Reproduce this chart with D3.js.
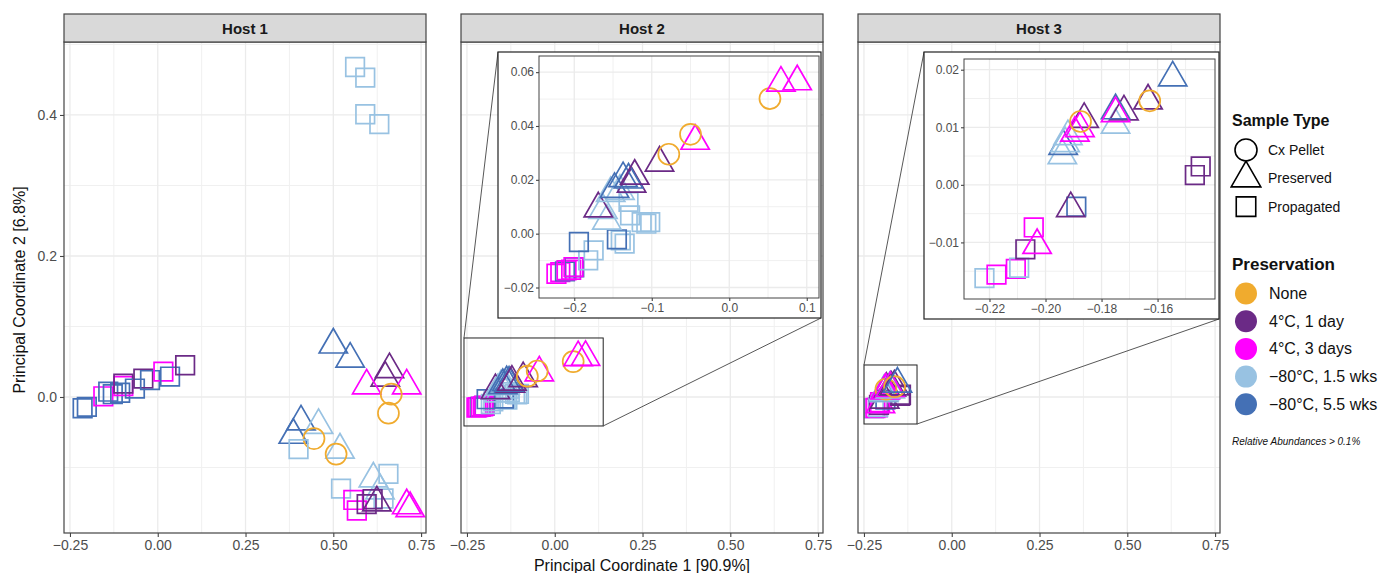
<!DOCTYPE html>
<html><head><meta charset="utf-8">
<script src="https://cdn.jsdelivr.net/npm/d3@7"></script>
<style>
body{margin:0;background:#fff;}
svg{font-family:"Liberation Sans",Arial,Helvetica,sans-serif;}
</style></head><body>
<svg id="c" width="1383" height="573"></svg>
<script>
// ---------------- DATA ----------------
const panels = ["Host 1", "Host 2", "Host 3"];
const sampleTypes = ["Cx Pellet", "Preserved", "Propagated"];
const preservations = ["None", "4°C, 1 day", "4°C, 3 days", "−80°C, 1.5 wks", "−80°C, 5.5 wks"];
const presColors = ["#F0AB2E", "#6B2A86", "#FF00FF", "#98C2E2", "#4470B5"];

// [PC1, PC2, sampleType index, preservation index]
const host1 = [
  [-0.214,-0.016,2,4],[-0.202,-0.014,2,4],[-0.155,0.001,2,2],[-0.141,0.0075,2,4],
  [-0.128,0.004,2,4],[-0.107,0.006,2,4],[-0.098,0.0156,2,2],[-0.098,0.019,2,1],
  [-0.065,0.012,2,4],[-0.041,0.026,2,1],[-0.022,0.024,2,4],[0.016,0.036,2,2],
  [0.035,0.029,2,4],[0.078,0.045,2,1],
  [0.562,0.468,2,3],[0.591,0.453,2,3],[0.591,0.401,2,3],[0.631,0.387,2,3],
  [0.500,0.074,1,4],[0.548,0.054,1,4],[0.660,0.039,1,1],[0.648,0.027,1,1],
  [0.595,0.016,1,2],[0.709,0.016,1,2],[0.665,0.004,0,0],[0.657,-0.023,0,0],
  [0.408,-0.035,1,4],[0.386,-0.054,1,4],[0.458,-0.040,1,3],[0.445,-0.059,0,0],
  [0.401,-0.074,2,3],[0.519,-0.075,1,3],[0.508,-0.081,0,0],
  [0.522,-0.130,2,3],[0.614,-0.116,1,3],[0.657,-0.109,2,3],[0.633,-0.133,1,3],
  [0.643,-0.144,2,3],[0.557,-0.146,2,2],[0.567,-0.161,2,2],[0.595,-0.152,2,1],
  [0.612,-0.145,2,1],[0.624,-0.150,1,1],[0.709,-0.154,1,2],[0.719,-0.158,1,2]
];
const host2 = [
  [-0.223,-0.0149,2,2],[-0.218,-0.0143,2,2],[-0.212,-0.0140,2,4],[-0.210,-0.0136,2,2],
  [-0.204,-0.0134,2,2],[-0.200,-0.0125,2,4],[-0.201,-0.0124,2,2],
  [-0.182,-0.0099,2,3],[-0.175,-0.0062,2,3],[-0.194,-0.0031,2,4],
  [-0.135,-0.0037,2,3],[-0.140,-0.0025,2,3],[-0.145,-0.0021,2,4],
  [-0.102,0.0043,2,3],[-0.107,0.0037,2,3],[-0.113,0.0043,2,3],[-0.128,0.0068,2,3],[-0.130,0.0118,2,3],
  [-0.158,0.0047,1,3],[-0.163,0.0087,1,3],[-0.169,0.0093,1,1],
  [-0.153,0.0150,1,3],[-0.141,0.0158,1,3],[-0.148,0.0165,1,4],
  [-0.126,0.0185,1,1],[-0.137,0.0205,1,4],[-0.130,0.0200,1,4],[-0.122,0.0214,1,1],
  [-0.090,0.0263,1,1],[-0.078,0.0295,0,0],[-0.044,0.0344,1,2],[-0.050,0.0369,0,0],
  [0.0525,0.0502,0,0],[0.0667,0.0560,1,2],[0.0877,0.0565,1,2]
];
const host3 = [
  [-0.2218,-0.0162,2,3],[-0.2175,-0.0156,2,2],[-0.2106,-0.0146,2,2],[-0.2094,-0.0144,2,3],
  [-0.2072,-0.0112,2,1],[-0.2042,-0.0074,2,2],[-0.2030,-0.0105,1,2],
  [-0.1890,-0.0038,2,4],[-0.1910,-0.0041,1,1],
  [-0.1467,0.0017,2,1],[-0.1446,0.0032,2,1],
  [-0.1940,0.0051,1,3],[-0.1937,0.0067,1,4],[-0.1930,0.0072,1,3],[-0.1920,0.0084,1,3],
  [-0.1862,0.0114,1,1],[-0.1895,0.0090,1,2],[-0.1877,0.0098,1,2],[-0.1875,0.0110,0,0],
  [-0.1750,0.0104,1,3],[-0.1720,0.0127,1,1],[-0.1750,0.0129,1,4],[-0.1750,0.0124,1,2],
  [-0.1634,0.0146,1,1],[-0.1628,0.0146,0,0],[-0.1546,0.0186,1,4]
];

const mainXTicks = [-0.25, 0, 0.25, 0.5, 0.75];
const mainXLabels = ["−0.25", "0.00", "0.25", "0.50", "0.75"];
const mainXMinor = [-0.125, 0.125, 0.375, 0.625];
const mainYTicks = [0, 0.2, 0.4];
const mainYLabels = ["0.0", "0.2", "0.4"];
const mainYMinor = [-0.1, 0.1, 0.3, 0.5];

const inset2XTicks = [-0.2, -0.1, 0, 0.1];
const inset2XLabels = ["−0.2", "−0.1", "0.0", "0.1"];
const inset2XMinor = [-0.15, -0.05, 0.05];
const inset2YTicks = [-0.02, 0, 0.02, 0.04, 0.06];
const inset2YLabels = ["−0.02", "0.00", "0.02", "0.04", "0.06"];
const inset2YMinor = [-0.01, 0.01, 0.03, 0.05];

const inset3XTicks = [-0.22, -0.20, -0.18, -0.16];
const inset3XLabels = ["−0.22", "−0.20", "−0.18", "−0.16"];
const inset3XMinor = [-0.21, -0.19, -0.17, -0.15];
const inset3YTicks = [-0.01, 0, 0.01, 0.02];
const inset3YLabels = ["−0.01", "0.00", "0.01", "0.02"];
const inset3YMinor = [-0.015, -0.005, 0.005, 0.015];

// zoom regions in data units [xmin, xmax, ymin, ymax]
const zoom2 = [-0.2585, 0.138, -0.0411, 0.0837];
const zoom3 = [-0.2499, -0.0989, -0.0383, 0.0454];

// ---------------- LAYOUT ----------------
const svg = d3.select("#c");
const PX = [64, 461, 858], PW = 362, PT = 42, PB = 533, ST = 14;
const R = 10.5;
const x = d3.scaleLinear().domain([-0.267, 0.764]).range([0, PW]);
const y = d3.scaleLinear().domain([-0.1929, 0.5035]).range([PB, PT]);
const datasets = [host1, host2, host3];

function shapePath(t, r) {
  const p = d3.path();
  if (t === 0) { p.arc(0, 0, r, 0, 2 * Math.PI); }
  else if (t === 1) {
    const a = 1.5551 * r, xc = 1.3468 * r, yc = 0.7776 * r;
    p.moveTo(0, -a); p.lineTo(xc, yc); p.lineTo(-xc, yc); p.closePath();
  } else {
    const h = 0.8862 * r;
    p.rect(-h, -h, 2 * h, 2 * h);
  }
  return p.toString();
}

function drawPoints(g, data, sx, sy) {
  g.selectAll(null).data(data).enter().append("path")
    .attr("d", d => shapePath(d[2], R))
    .attr("transform", d => `translate(${sx(d[0])},${sy(d[1])})`)
    .attr("fill", "none")
    .attr("stroke", d => presColors[d[3]])
    .attr("stroke-width", 1.7);
}

function grid(g, sx, sy, xMaj, xMin, yMaj, yMin) {
  const [x0, x1] = sx.range(), [y1, y0] = sy.range();
  xMin.forEach(v => g.append("line").attr("x1", sx(v)).attr("x2", sx(v)).attr("y1", y0).attr("y2", y1).attr("stroke", "#F0F0F0").attr("stroke-width", 1));
  yMin.forEach(v => g.append("line").attr("y1", sy(v)).attr("y2", sy(v)).attr("x1", x0).attr("x2", x1).attr("stroke", "#F0F0F0").attr("stroke-width", 1));
  xMaj.forEach(v => g.append("line").attr("x1", sx(v)).attr("x2", sx(v)).attr("y1", y0).attr("y2", y1).attr("stroke", "#EBEBEB").attr("stroke-width", 1.3));
  yMaj.forEach(v => g.append("line").attr("y1", sy(v)).attr("y2", sy(v)).attr("x1", x0).attr("x2", x1).attr("stroke", "#EBEBEB").attr("stroke-width", 1.3));
}

function styleAxis(a, size) {
  a.select(".domain").remove();
  a.selectAll(".tick line").attr("stroke", "#444").attr("stroke-width", 1.1);
  a.selectAll(".tick text").attr("fill", "#4D4D4D").style("font-size", size + "px").style("font-family", "Liberation Sans, Arial, sans-serif");
}

panels.forEach((name, i) => {
  const g = svg.append("g").attr("transform", `translate(${PX[i]},0)`);
  g.append("rect").attr("x", 0).attr("y", PT).attr("width", PW).attr("height", PB - PT).attr("fill", "#fff");
  grid(g, x, y, mainXTicks, mainXMinor, mainYTicks, mainYMinor);
  drawPoints(g, datasets[i], x, y);
  g.append("rect").attr("x", 0).attr("y", PT).attr("width", PW).attr("height", PB - PT)
    .attr("fill", "none").attr("stroke", "#444").attr("stroke-width", 1.2);
  // strip
  g.append("rect").attr("x", 0).attr("y", ST).attr("width", PW).attr("height", PT - ST)
    .attr("fill", "#D9D9D9").attr("stroke", "#444").attr("stroke-width", 1.2);
  g.append("text").attr("x", PW / 2).attr("y", ST + 19.5).attr("text-anchor", "middle")
    .style("font-size", "15px").style("font-weight", "bold").attr("fill", "#1A1A1A").text(name);
  // x axis
  const ax = g.append("g").attr("transform", `translate(0,${PB})`)
    .call(d3.axisBottom(x).tickValues(mainXTicks).tickFormat((d, k) => mainXLabels[k]).tickSize(4).tickPadding(3));
  styleAxis(ax, 14);
  if (i === 0) {
    const ay = g.append("g").call(d3.axisLeft(y).tickValues(mainYTicks).tickFormat((d, k) => mainYLabels[k]).tickSize(4).tickPadding(3));
    styleAxis(ay, 14);
  }
});

// insets
function drawInset(pi, data, zoom, box, pan, xd, yd, xt, xl, xm, yt, yl, ym) {
  const g = svg.append("g");
  const ox = PX[pi];
  const rx0 = ox + x(zoom[0]), rx1 = ox + x(zoom[1]), ry0 = y(zoom[3]), ry1 = y(zoom[2]);
  g.append("rect").attr("x", rx0).attr("y", ry0).attr("width", rx1 - rx0).attr("height", ry1 - ry0)
    .attr("fill", "none").attr("stroke", "#222").attr("stroke-width", 1);
  g.append("line").attr("x1", rx0).attr("y1", ry0).attr("x2", box[0]).attr("y2", box[1]).attr("stroke", "#444").attr("stroke-width", 0.9);
  g.append("line").attr("x1", rx1).attr("y1", ry1).attr("x2", box[2]).attr("y2", box[3]).attr("stroke", "#444").attr("stroke-width", 0.9);
  g.append("rect").attr("x", box[0]).attr("y", box[1]).attr("width", box[2] - box[0]).attr("height", box[3] - box[1])
    .attr("fill", "#fff").attr("stroke", "#222").attr("stroke-width", 1.2);
  const sx = d3.scaleLinear().domain(xd).range([pan[0], pan[2]]);
  const sy = d3.scaleLinear().domain(yd).range([pan[3], pan[1]]);
  grid(g, sx, sy, xt, xm, yt, ym);
  drawPoints(g, data, sx, sy);
  g.append("rect").attr("x", pan[0]).attr("y", pan[1]).attr("width", pan[2] - pan[0]).attr("height", pan[3] - pan[1])
    .attr("fill", "none").attr("stroke", "#444").attr("stroke-width", 1);
  const ax = g.append("g").attr("transform", `translate(0,${pan[3]})`)
    .call(d3.axisBottom(sx).tickValues(xt).tickFormat((d, k) => xl[k]).tickSize(3).tickPadding(2));
  styleAxis(ax, 12);
  const ay = g.append("g").attr("transform", `translate(${pan[0]},0)`)
    .call(d3.axisLeft(sy).tickValues(yt).tickFormat((d, k) => yl[k]).tickSize(3).tickPadding(2));
  styleAxis(ay, 12);
}
drawInset(1, host2, zoom2, [498, 52, 821, 318], [539, 56, 819, 298], [-0.2455, 0.1158], [-0.0239, 0.066],
  inset2XTicks, inset2XLabels, inset2XMinor, inset2YTicks, inset2YLabels, inset2YMinor);
drawInset(2, host3, zoom3, [924, 52, 1219, 319], [964, 59, 1215, 299], [-0.2291, -0.1395], [-0.01983, 0.02186],
  inset3XTicks, inset3XLabels, inset3XMinor, inset3YTicks, inset3YLabels, inset3YMinor);

// axis titles
svg.append("text").attr("x", 642).attr("y", 571).attr("text-anchor", "middle")
  .style("font-size", "16px").attr("fill", "#111").text("Principal Coordinate 1 [90.9%]");
svg.append("text").attr("transform", "translate(25,290) rotate(-90)").attr("text-anchor", "middle")
  .style("font-size", "16px").attr("fill", "#111").text("Principal Coordinate 2 [6.8%]");

// legend
const L = svg.append("g");
L.append("text").attr("x", 1232).attr("y", 126).style("font-size", "16px").style("font-weight", "bold").attr("fill", "#111").text("Sample Type");
sampleTypes.forEach((s, k) => {
  const cy = 150 + k * 28.3;
  L.append("path").attr("d", shapePath(k, 11)).attr("transform", `translate(1246,${cy})`)
    .attr("fill", "none").attr("stroke", "#000").attr("stroke-width", 1.6);
  L.append("text").attr("x", 1268).attr("y", cy + 5).style("font-size", "14px").attr("fill", "#111").text(s);
});
L.append("text").attr("x", 1232).attr("y", 270).style("font-size", "17px").style("font-weight", "bold").attr("fill", "#111").text("Preservation");
preservations.forEach((s, k) => {
  const cy = 293.5 + k * 27.7;
  L.append("circle").attr("cx", 1246).attr("cy", cy).attr("r", 11).attr("fill", presColors[k]);
  L.append("text").attr("x", 1269).attr("y", cy + 5.5).style("font-size", "16px").attr("fill", "#111").text(s);
});
L.append("text").attr("x", 1232).attr("y", 445).style("font-size", "10px").style("font-style", "italic").attr("fill", "#111").text("Relative Abundances > 0.1%");
</script>
</body></html>
